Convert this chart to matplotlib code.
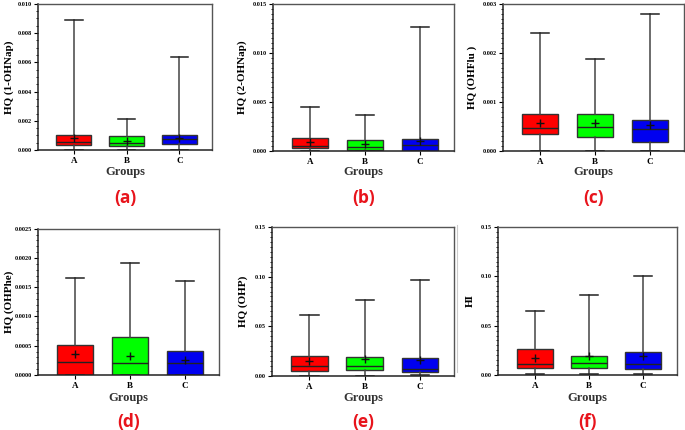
import numpy as np
import matplotlib.pyplot as plt
from matplotlib.lines import Line2D
from matplotlib.ticker import MultipleLocator

groups = ["A", "B", "C"]
box_colors = ["#ff0000", "#00ff00", "#0000f0"]

panels = ["(a)", "(b)", "(c)", "(d)", "(e)", "(f)"]
ylabels = ["HQ (1-OHNap)", "HQ (2-OHNap)", "HQ (OHFlu )", "HQ (OHPhe)", "HQ (OHP)", "HI"]

# per panel: values for groups A, B, C
whislo = [[0.0, 0.0, 0.0], [0.0, 0.0, 0.0], [0.0, 0.0, 0.0],
          [0.0, 0.0, 0.0], [0.0, 0.0, 0.0007], [0.0007, 0.001, 0.0012]]
q1 = [[0.00037, 0.00030, 0.00044], [0.00025, 0.00010, 0.00001], [0.00035, 0.00029, 0.00018],
      [0.0, 0.0, 0.0], [0.0053, 0.0060, 0.0040], [0.0075, 0.0075, 0.0061]]
med = [[0.00053, 0.00048, 0.00073], [0.00051, 0.00045, 0.00058], [0.00047, 0.00049, 0.00044],
       [0.00022, 0.00020, 0.00020], [0.0100, 0.0100, 0.0073], [0.0116, 0.0126, 0.0109]]
q3 = [[0.00105, 0.00096, 0.00100], [0.00133, 0.00110, 0.00120], [0.00075, 0.00075, 0.00063],
      [0.00051, 0.00065, 0.00041], [0.0201, 0.0188, 0.0180], [0.0268, 0.0197, 0.0230]]
whishi = [[0.00888, 0.00213, 0.00638], [0.00453, 0.00368, 0.01268], [0.00240, 0.00187, 0.00279],
          [0.00166, 0.00191, 0.00160], [0.0618, 0.0762, 0.0962], [0.0644, 0.0809, 0.1001]]
means = [[0.00085, 0.00062, 0.00083], [0.00086, 0.00072, 0.00106], [0.00056, 0.00056, 0.00053],
         [0.00036, 0.00033, 0.00026], [0.0148, 0.0168, 0.0160], [0.0177, 0.0190, 0.0197]]

ymax = [0.010, 0.015, 0.003, 0.0025, 0.15, 0.15]
ystep = [0.002, 0.005, 0.001, 0.0005, 0.05, 0.05]
yminor = [0.0005, 0.0005, 0.0001, 0.0001, 0.005, 0.005]
yfmt = ["{:.3f}", "{:.3f}", "{:.3f}", "{:.4f}", "{:.2f}", "{:.2f}"]

# axes rectangles (fig fraction)
rects = [(0.0555, 0.651, 0.254, 0.340), (0.3985, 0.649, 0.264, 0.342), (0.734, 0.649, 0.264, 0.342),
         (0.0555, 0.128, 0.264, 0.340), (0.397, 0.126, 0.266, 0.346), (0.727, 0.128, 0.261, 0.344)]
ylabel_px = [9, 242, 472, 9, 243, 470]   # x centre of the y label, pixels

SERIF = "Liberation Serif"
W, H = 685, 430

fig = plt.figure(figsize=(6.85, 4.30), dpi=100)

for k in range(6):
    ax = fig.add_axes(rects[k])
    stats = []
    for i, g in enumerate(groups):
        stats.append(dict(label=g, whislo=whislo[k][i], q1=q1[k][i], med=med[k][i],
                          q3=q3[k][i], whishi=whishi[k][i], mean=means[k][i]))
    bp = ax.bxp(stats, positions=[1, 2, 3], widths=0.66, patch_artist=True,
                showmeans=True, showfliers=False,
                boxprops=dict(edgecolor="#333333", linewidth=1.0),
                medianprops=dict(color="#222222", linewidth=1.0),
                whiskerprops=dict(color="#444444", linewidth=1.1),
                capprops=dict(color="#222222", linewidth=1.1),
                meanprops=dict(marker="+", markeredgecolor="#111111", markersize=6,
                               markeredgewidth=1.0))
    for p, c in zip(bp["boxes"], box_colors):
        p.set_facecolor(c)
    ax.set_xlim(0.32, 3.62)
    ax.set_ylim(0, ymax[k])
    ticks = np.arange(0, ymax[k] + ystep[k] / 2, ystep[k])
    ax.set_yticks(ticks)
    ax.set_yticklabels([yfmt[k].format(t) for t in ticks], fontsize=4.5,
                       fontweight="bold", family=SERIF)
    ax.yaxis.set_minor_locator(MultipleLocator(yminor[k]))
    ax.set_xticks([1, 2, 3])
    ax.set_xticklabels(groups, fontsize=6.5, fontweight="bold", family=SERIF)
    ax.tick_params(axis="y", which="major", length=3, width=0.8, pad=1.5)
    ax.tick_params(axis="y", which="minor", length=1.5, width=0.6)
    ax.tick_params(axis="x", length=3, width=0.8, pad=2)
    for s in ["left", "bottom"]:
        ax.spines[s].set_linewidth(1.1)
        ax.spines[s].set_color("#222222")
    for s in ["top", "right"]:
        ax.spines[s].set_linewidth(1.0)
        ax.spines[s].set_color("#555555")

    x0, y0, w, h = rects[k]
    ax.set_ylabel(ylabels[k], fontsize=8, fontweight="bold", family=SERIF,
                  va="center")
    ax.yaxis.set_label_coords((ylabel_px[k] / W - x0) / w, 0.5)

    top_row = k < 3
    fig.text(x0 + w / 2, (H - (172 if top_row else 398)) / H, "Groups",
             ha="center", va="center", fontsize=9, fontweight="bold", family=SERIF,
             color="#333333")
    fig.text(x0 + w / 2, (H - (198 if top_row else 422)) / H, panels[k],
             ha="center", va="center", fontsize=12.5, fontweight="bold",
             family="Open Sans", color="#e8141c")

# faint frame line left of panel (f)
fig.add_artist(Line2D([457 / W, 457 / W], [1 - 225 / H, 1 - 372 / H],
                      color="#cccccc", lw=0.8))

fig.savefig("out.png", dpi=100)
